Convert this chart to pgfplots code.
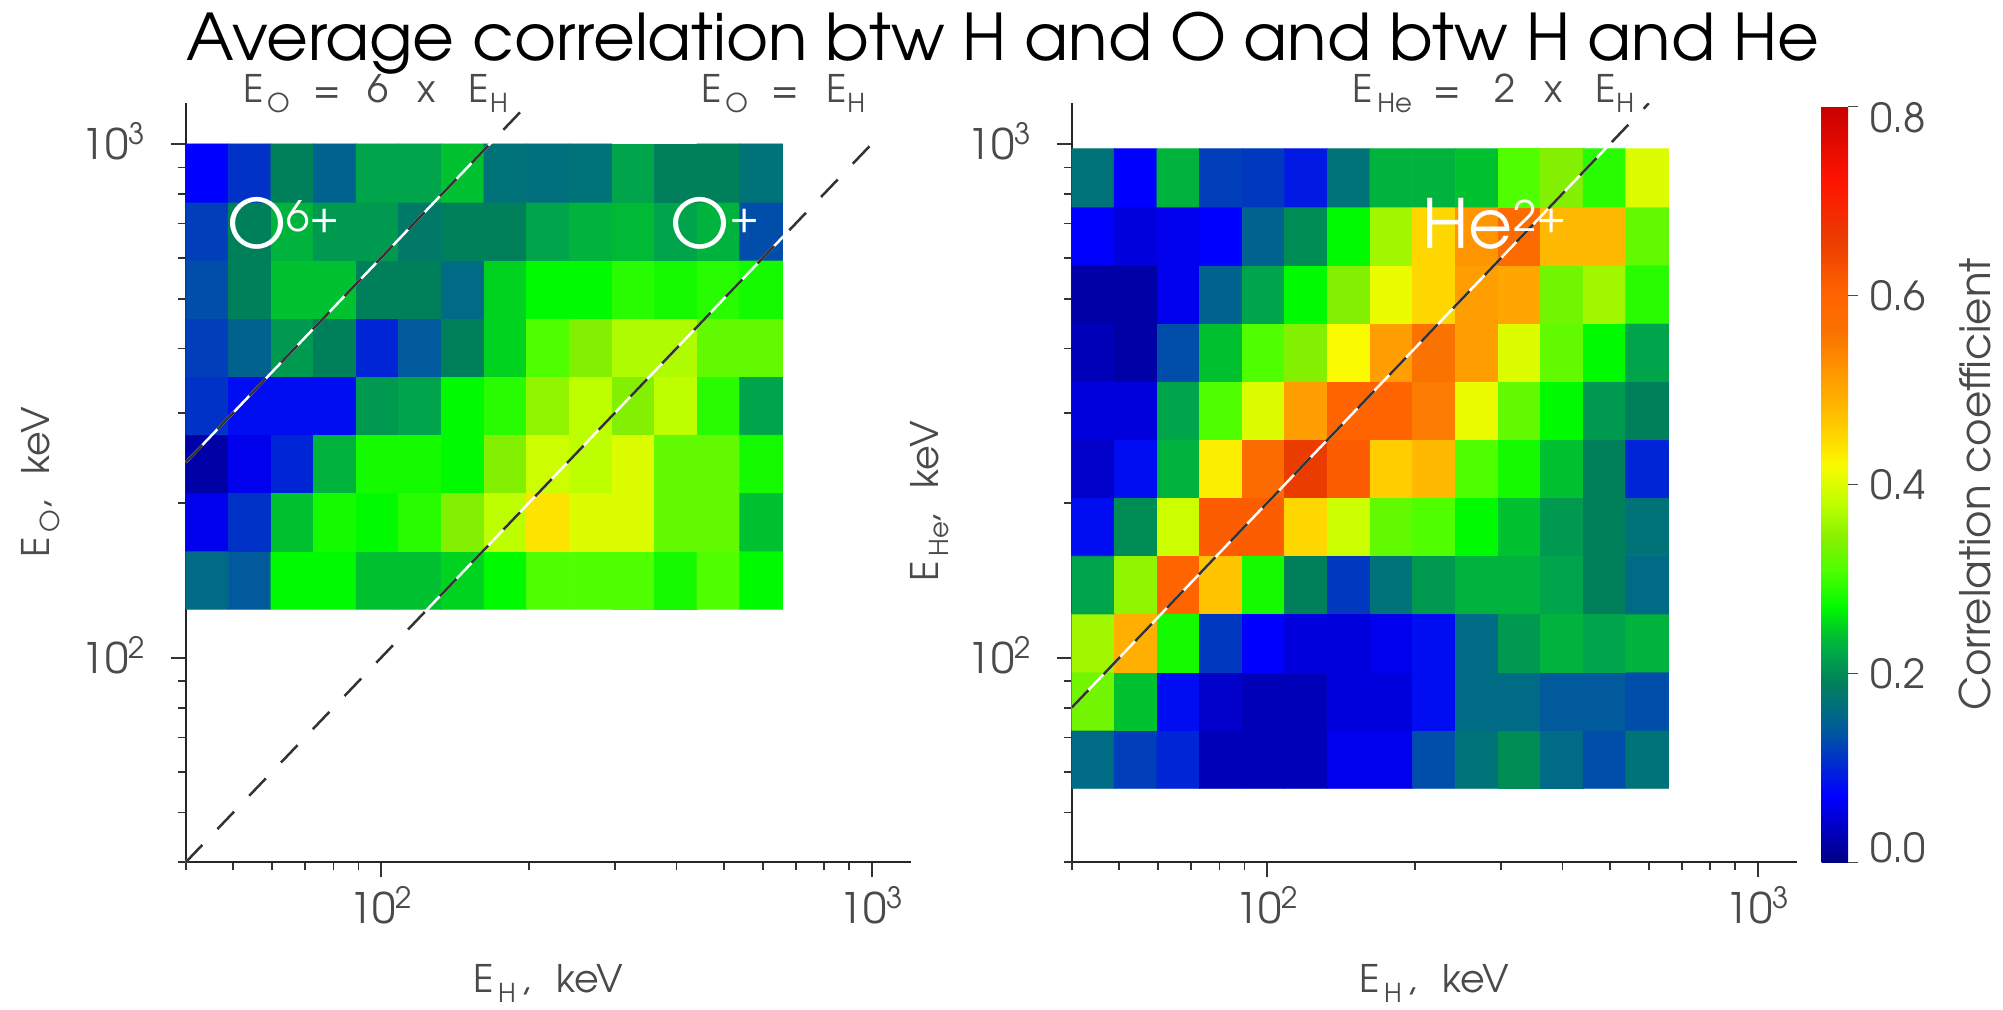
\documentclass[border=0pt]{standalone}
\usepackage{pgfplots}
\pgfplotsset{compat=1.18}
\usepackage{fontspec}
\setmainfont{texgyreadventor-regular.otf}
\definecolor{axgray}{HTML}{4A4A4A}
\definecolor{linegray}{HTML}{333333}
\newcommand\sub[1]{\raisebox{-5pt}{\fontsize{13}{15}\selectfont #1}}
\newcommand\sups[1]{\raisebox{8.5pt}{\fontsize{21}{25}\selectfont #1}}
\pgfplotsset{
  colormap={corr}{
    rgb255(0pt)=(0,0,130);
    rgb255(30pt)=(0,0,185);
    rgb255(70pt)=(0,0,255);
    rgb255(110pt)=(0,50,200);
    rgb255(140pt)=(0,90,155);
    rgb255(170pt)=(0,115,120);
    rgb255(190pt)=(0,128,90);
    rgb255(220pt)=(0,165,75);
    rgb255(245pt)=(0,200,40);
    rgb255(270pt)=(0,250,0);
    rgb255(310pt)=(80,255,0);
    rgb255(340pt)=(130,240,0);
    rgb255(380pt)=(190,255,0);
    rgb255(420pt)=(250,250,0);
    rgb255(450pt)=(255,215,0);
    rgb255(490pt)=(255,175,0);
    rgb255(520pt)=(255,150,0);
    rgb255(560pt)=(250,115,0);
    rgb255(600pt)=(255,100,0);
    rgb255(660pt)=(235,60,0);
    rgb255(720pt)=(255,20,0);
    rgb255(800pt)=(200,0,0)
  }
}
\begin{document}
\begin{tikzpicture}
\path[use as bounding box] (0,0) rectangle (1001.5pt,504.5pt);
% ---------------- left panel: H vs O
\begin{axis}[at={(92.85pt,73.35pt)}, anchor=south west,
    scale only axis, width=362.4pt, height=379.5pt,
    xmode=log, ymode=log, xmin=40, xmax=1200, ymin=40, ymax=1200,
    axis x line=bottom, axis y line=left,
    axis line style={-, black!85, line width=0.9pt},
    xtick={100,1000}, ytick={100,1000},
    minor xtick={40,50,60,70,80,90,200,300,400,500,600,700,800,900},
    minor ytick={40,50,60,70,80,90,200,300,400,500,600,700,800,900},
    xticklabels={\raisebox{9pt}{10\textsuperscript{2}},\raisebox{9pt}{10\textsuperscript{3}}},
    yticklabels={10\textsuperscript{2},10\textsuperscript{3}},
    tick align=outside,
    major tick length=7.5pt, minor tick length=4pt,
    tick style={black!80, line width=0.9pt},
    tick label style={text=axgray, font=\fontsize{21}{25}\selectfont},
    xticklabel style={anchor=base, inner sep=0pt, yshift=-32.2pt},
    yticklabel style={anchor=base east, inner sep=0pt, xshift=-12.35pt, yshift=-8pt},
    xlabel style={at={(axis description cs:0.5,-0.172)}, anchor=base, text=axgray, font=\fontsize{19}{23}\selectfont},
    ylabel style={at={(axis description cs:-0.1886,0.501)}, anchor=base, text=axgray, font=\fontsize{19}{23}\selectfont},
    colormap name=corr, point meta min=0, point meta max=0.8,
    xlabel={\rlap{E}\hspace{12.5pt}\rlap{\sub{H}}\hspace{11pt}\rlap{,}\hspace{18pt}keV},
    ylabel={\rlap{E}\hspace{12.5pt}\rlap{\sub{O}}\hspace{11pt}\rlap{,}\hspace{18pt}keV}]
\addplot[matrix plot*, mesh/cols=14, point meta=explicit] coordinates {
(44.21,141.7)[.16] (54.00,141.7)[.14] (65.95,141.7)[.27] (80.55,141.7)[.27] (98.39,141.7)[.24] (120.2,141.7)[.24] (146.8,141.7)[.25] (179.3,141.7)[.27] (219.0,141.7)[.31] (267.4,141.7)[.31] (326.7,141.7)[.31] (399.0,141.7)[.28] (487.3,141.7)[.31] (595.2,141.7)[.27]
(44.21,183.9)[.06] (54.00,183.9)[.11] (65.95,183.9)[.24] (80.55,183.9)[.28] (98.39,183.9)[.27] (120.2,183.9)[.29] (146.8,183.9)[.34] (179.3,183.9)[.38] (219.0,183.9)[.44] (267.4,183.9)[.40] (326.7,183.9)[.40] (399.0,183.9)[.32] (487.3,183.9)[.32] (595.2,183.9)[.24]
(44.21,238.6)[.02] (54.00,238.6)[.06] (65.95,238.6)[.10] (80.55,238.6)[.23] (98.39,238.6)[.28] (120.2,238.6)[.28] (146.8,238.6)[.27] (179.3,238.6)[.34] (219.0,238.6)[.39] (267.4,238.6)[.38] (326.7,238.6)[.40] (399.0,238.6)[.32] (487.3,238.6)[.32] (595.2,238.6)[.28]
(44.21,309.7)[.11] (54.00,309.7)[.08] (65.95,309.7)[.08] (80.55,309.7)[.08] (98.39,309.7)[.21] (120.2,309.7)[.22] (146.8,309.7)[.27] (179.3,309.7)[.29] (219.0,309.7)[.35] (267.4,309.7)[.38] (326.7,309.7)[.34] (399.0,309.7)[.38] (487.3,309.7)[.29] (595.2,309.7)[.22]
(44.21,401.8)[.12] (54.00,401.8)[.15] (65.95,401.8)[.21] (80.55,401.8)[.19] (98.39,401.8)[.10] (120.2,401.8)[.14] (146.8,401.8)[.19] (179.3,401.8)[.25] (219.0,401.8)[.31] (267.4,401.8)[.34] (326.7,401.8)[.37] (399.0,401.8)[.37] (487.3,401.8)[.32] (595.2,401.8)[.32]
(44.21,521.4)[.13] (54.00,521.4)[.19] (65.95,521.4)[.24] (80.55,521.4)[.24] (98.39,521.4)[.19] (120.2,521.4)[.19] (146.8,521.4)[.16] (179.3,521.4)[.25] (219.0,521.4)[.27] (267.4,521.4)[.27] (326.7,521.4)[.29] (399.0,521.4)[.28] (487.3,521.4)[.29] (595.2,521.4)[.28]
(44.21,676.6)[.12] (54.00,676.6)[.19] (65.95,676.6)[.23] (80.55,676.6)[.21] (98.39,676.6)[.21] (120.2,676.6)[.18] (146.8,676.6)[.19] (179.3,676.6)[.19] (219.0,676.6)[.22] (267.4,676.6)[.23] (326.7,676.6)[.235] (399.0,676.6)[.22] (487.3,676.6)[.23] (595.2,676.6)[.13]
(44.21,877.9)[.07] (54.00,877.9)[.11] (65.95,877.9)[.19] (80.55,877.9)[.15] (98.39,877.9)[.22] (120.2,877.9)[.22] (146.8,877.9)[.24] (179.3,877.9)[.17] (219.0,877.9)[.165] (267.4,877.9)[.17] (326.7,877.9)[.22] (399.0,877.9)[.19] (487.3,877.9)[.19] (595.2,877.9)[.17]
};
\addplot[white, line width=1.25pt] coordinates {(40,240) (200,1200)};
\addplot[linegray, line width=1.25pt, dash pattern=on 12pt off 11pt] coordinates {(40,240) (200,1200)};
\addplot[white, line width=1.25pt] coordinates {(40,40) (1000,1000)};
\addplot[linegray, line width=1.25pt, dash pattern=on 12pt off 11pt] coordinates {(40,40) (1000,1000)};
\end{axis}
% ---------------- right panel: H vs He
\begin{axis}[at={(535.85pt,73.35pt)}, anchor=south west,
    scale only axis, width=362.4pt, height=379.5pt,
    xmode=log, ymode=log, xmin=40, xmax=1200, ymin=40, ymax=1200,
    axis x line=bottom, axis y line=left,
    axis line style={-, black!85, line width=0.9pt},
    xtick={100,1000}, ytick={100,1000},
    minor xtick={40,50,60,70,80,90,200,300,400,500,600,700,800,900},
    minor ytick={40,50,60,70,80,90,200,300,400,500,600,700,800,900},
    xticklabels={\raisebox{9pt}{10\textsuperscript{2}},\raisebox{9pt}{10\textsuperscript{3}}},
    yticklabels={10\textsuperscript{2},10\textsuperscript{3}},
    tick align=outside,
    major tick length=7.5pt, minor tick length=4pt,
    tick style={black!80, line width=0.9pt},
    tick label style={text=axgray, font=\fontsize{21}{25}\selectfont},
    xticklabel style={anchor=base, inner sep=0pt, yshift=-32.2pt},
    yticklabel style={anchor=base east, inner sep=0pt, xshift=-12.35pt, yshift=-8pt},
    xlabel style={at={(axis description cs:0.5,-0.172)}, anchor=base, text=axgray, font=\fontsize{19}{23}\selectfont},
    ylabel style={at={(axis description cs:-0.1833,0.476)}, anchor=base, text=axgray, font=\fontsize{19}{23}\selectfont},
    colormap name=corr, point meta min=0, point meta max=0.8,
    xlabel={\rlap{E}\hspace{12.5pt}\rlap{\sub{H}}\hspace{11pt}\rlap{,}\hspace{18pt}keV},
    ylabel={\rlap{E}\hspace{12.5pt}\rlap{\sub{He}}\hspace{16pt}\rlap{,}\hspace{18pt}keV}]
\addplot[matrix plot*, mesh/cols=14, point meta=explicit] coordinates {
(44.21,63.48)[.16] (54.00,63.48)[.12] (65.95,63.48)[.10] (80.55,63.48)[.03] (98.39,63.48)[.03] (120.2,63.48)[.03] (146.8,63.48)[.06] (179.3,63.48)[.06] (219.0,63.48)[.13] (267.4,63.48)[.17] (326.7,63.48)[.20] (399.0,63.48)[.16] (487.3,63.48)[.13] (595.2,63.48)[.17]
(44.21,82.37)[.33] (54.00,82.37)[.24] (65.95,82.37)[.08] (80.55,82.37)[.04] (98.39,82.37)[.03] (120.2,82.37)[.03] (146.8,82.37)[.05] (179.3,82.37)[.05] (219.0,82.37)[.08] (267.4,82.37)[.16] (326.7,82.37)[.16] (399.0,82.37)[.14] (487.3,82.37)[.14] (595.2,82.37)[.13]
(44.21,106.9)[.36] (54.00,106.9)[.49] (65.95,106.9)[.28] (80.55,106.9)[.115] (98.39,106.9)[.07] (120.2,106.9)[.05] (146.8,106.9)[.05] (179.3,106.9)[.06] (219.0,106.9)[.08] (267.4,106.9)[.16] (326.7,106.9)[.21] (399.0,106.9)[.23] (487.3,106.9)[.22] (595.2,106.9)[.23]
(44.21,138.7)[.22] (54.00,138.7)[.35] (65.95,138.7)[.60] (80.55,138.7)[.47] (98.39,138.7)[.28] (120.2,138.7)[.19] (146.8,138.7)[.115] (179.3,138.7)[.17] (219.0,138.7)[.21] (267.4,138.7)[.23] (326.7,138.7)[.23] (399.0,138.7)[.22] (487.3,138.7)[.19] (595.2,138.7)[.16]
(44.21,180.0)[.08] (54.00,180.0)[.20] (65.95,180.0)[.39] (80.55,180.0)[.61] (98.39,180.0)[.61] (120.2,180.0)[.45] (146.8,180.0)[.39] (179.3,180.0)[.32] (219.0,180.0)[.31] (267.4,180.0)[.27] (326.7,180.0)[.24] (399.0,180.0)[.21] (487.3,180.0)[.19] (595.2,180.0)[.17]
(44.21,233.5)[.04] (54.00,233.5)[.08] (65.95,233.5)[.23] (80.55,233.5)[.43] (98.39,233.5)[.58] (120.2,233.5)[.66] (146.8,233.5)[.61] (179.3,233.5)[.46] (219.0,233.5)[.48] (267.4,233.5)[.31] (326.7,233.5)[.28] (399.0,233.5)[.24] (487.3,233.5)[.19] (595.2,233.5)[.10]
(44.21,303.0)[.05] (54.00,303.0)[.05] (65.95,303.0)[.22] (80.55,303.0)[.31] (98.39,303.0)[.40] (120.2,303.0)[.51] (146.8,303.0)[.60] (179.3,303.0)[.60] (219.0,303.0)[.55] (267.4,303.0)[.41] (326.7,303.0)[.32] (399.0,303.0)[.27] (487.3,303.0)[.21] (595.2,303.0)[.19]
(44.21,393.2)[.03] (54.00,393.2)[.02] (65.95,393.2)[.13] (80.55,393.2)[.24] (98.39,393.2)[.31] (120.2,393.2)[.34] (146.8,393.2)[.42] (179.3,393.2)[.51] (219.0,393.2)[.56] (267.4,393.2)[.51] (326.7,393.2)[.40] (399.0,393.2)[.32] (487.3,393.2)[.27] (595.2,393.2)[.22]
(44.21,510.2)[.02] (54.00,510.2)[.02] (65.95,510.2)[.06] (80.55,510.2)[.15] (98.39,510.2)[.22] (120.2,510.2)[.27] (146.8,510.2)[.34] (179.3,510.2)[.41] (219.0,510.2)[.45] (267.4,510.2)[.51] (326.7,510.2)[.50] (399.0,510.2)[.33] (487.3,510.2)[.36] (595.2,510.2)[.29]
(44.21,662.1)[.07] (54.00,662.1)[.05] (65.95,662.1)[.06] (80.55,662.1)[.07] (98.39,662.1)[.15] (120.2,662.1)[.20] (146.8,662.1)[.27] (179.3,662.1)[.36] (219.0,662.1)[.45] (267.4,662.1)[.52] (326.7,662.1)[.58] (399.0,662.1)[.48] (487.3,662.1)[.48] (595.2,662.1)[.32]
(44.21,859.1)[.17] (54.00,859.1)[.07] (65.95,859.1)[.23] (80.55,859.1)[.12] (98.39,859.1)[.115] (120.2,859.1)[.09] (146.8,859.1)[.17] (179.3,859.1)[.23] (219.0,859.1)[.23] (267.4,859.1)[.24] (326.7,859.1)[.31] (399.0,859.1)[.34] (487.3,859.1)[.29] (595.2,859.1)[.40]
};
\addplot[white, line width=1.25pt] coordinates {(40,80) (600,1200)};
\addplot[linegray, line width=1.25pt, dash pattern=on 12pt off 11pt] coordinates {(40,80) (600,1200)};
\end{axis}
% ---------------- colour bar (hidden host axis)
\begin{axis}[at={(910.85pt,73.35pt)}, anchor=south west, hide axis, scale only axis,
  width=13.15pt, height=378pt, xmin=0, xmax=1, ymin=0, ymax=1,
  colormap name=corr, point meta min=0, point meta max=0.8,
  colorbar,
  colorbar style={at={(parent axis.south west)}, anchor=south west, xshift=-0.3cm,
    width=13.15pt, height=378pt,
    ytick={0,0.2,0.4,0.6,0.8}, ytick pos=right, yticklabel pos=right,
    yticklabels={{\smash{0.0}},{\smash{\raisebox{-7.5pt}{0.2}}},{\smash{\raisebox{-7.5pt}{0.4}}},{\smash{\raisebox{-7.5pt}{0.6}}},{\smash{\raisebox{-13pt}{0.8}}}},
    tick align=outside, major tick length=5pt,
    tick style={axgray, line width=0.8pt},
    axis line style={draw=none},
    yticklabel style={anchor=west, inner sep=0pt, xshift=6pt, text=axgray, font=\fontsize{20}{24}\selectfont},
    ylabel style={at={(axis description cs:6.4,0.5)}, anchor=base, text=axgray, font=\fontsize{21}{25}\selectfont},
    ylabel={Correlation coefficient}}]
\addplot[draw=none] coordinates {(0,0)};
\end{axis}
% ---------------- texts
\node[anchor=base, inner sep=0pt, font=\fontsize{32.2}{38}\selectfont] at (501.5pt,474pt) {Average correlation btw H and O and btw H and He};
\begin{scope}[every node/.style={anchor=base west, inner sep=0pt, text=axgray, font=\fontsize{19}{23}\selectfont}]
\node at (121.3pt,453pt) {\rlap{E}\hspace{12pt}\rlap{\sub{O}}\hspace{23pt}\rlap{=}\hspace{27.5pt}\rlap{6}\hspace{25pt}\rlap{x}\hspace{25.5pt}\rlap{E}\hspace{10.5pt}\sub{H}};
\node at (350.5pt,453pt) {\rlap{E}\hspace{12pt}\rlap{\sub{O}}\hspace{23pt}\rlap{=}\hspace{27.5pt}\rlap{E}\hspace{10.5pt}\sub{H}};
\node at (676pt,453pt) {\rlap{E}\hspace{12.5pt}\rlap{\sub{He}}\hspace{28pt}\rlap{=}\hspace{30.5pt}\rlap{2}\hspace{25pt}\rlap{x}\hspace{25.5pt}\rlap{E}\hspace{10.5pt}\sub{H}};
\end{scope}
\begin{scope}[every node/.style={anchor=base west, inner sep=0pt, text=white, font=\fontsize{34}{40}\selectfont}]
\node at (113.5pt,380.5pt) {O\sups{6+}};
\node at (335pt,380.5pt) {O\sups{+}};
\node at (711pt,380.5pt) {He\sups{2+}};
\end{scope}
\end{tikzpicture}
\end{document}
